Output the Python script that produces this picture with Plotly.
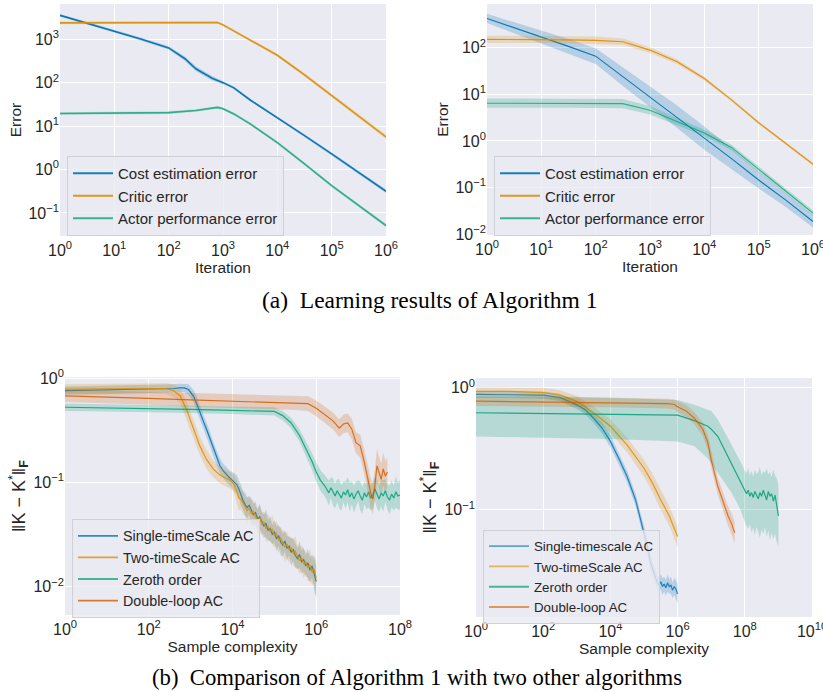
import plotly.graph_objects as go

# ---------------- data (log10 exponents) ----------------
# (a) left: learning results, run 1
TL_COST_X = [0, 0.5, 1, 1.5, 2, 2.3, 2.5, 2.8, 3, 3.2, 3.5, 4, 4.5, 5, 5.5, 6]
TL_COST_Y = [3.55, 3.37, 3.19, 3.0, 2.8, 2.55, 2.32, 2.1, 2.0, 1.88, 1.6, 1.2, 0.78, 0.36, -0.07, -0.5]
TL_COST_S = [0.03, 0.03, 0.03, 0.035, 0.04, 0.05, 0.06, 0.05, 0.04, 0.035, 0.03, 0.03, 0.03, 0.03, 0.035, 0.04]
TL_CRIT_X = [0, 1, 2, 2.5, 2.8, 2.9, 3, 3.2, 3.5, 4, 4.5, 5, 5.5, 6]
TL_CRIT_Y = [3.375, 3.38, 3.38, 3.385, 3.39, 3.385, 3.33, 3.19, 2.99, 2.63, 2.18, 1.71, 1.23, 0.75]
TL_CRIT_S = [0.03, 0.03, 0.03, 0.03, 0.03, 0.03, 0.03, 0.03, 0.03, 0.035, 0.04, 0.04, 0.045, 0.05]
TL_ACT_X = [0, 1, 2, 2.5, 2.8, 2.9, 3, 3.2, 3.5, 4, 4.5, 5, 5.5, 6]
TL_ACT_Y = [1.29, 1.3, 1.31, 1.36, 1.42, 1.43, 1.40, 1.28, 1.05, 0.62, 0.13, -0.37, -0.83, -1.29]
TL_ACT_S = [0.03, 0.03, 0.03, 0.03, 0.03, 0.03, 0.03, 0.03, 0.03, 0.03, 0.03, 0.03, 0.035, 0.04]

# (a) right: learning results, run 2
TR_X = [0, 0.5, 1, 1.5, 2, 2.5, 3, 3.5, 4, 4.5, 5, 5.5, 6]
TR_COST_Y = [2.63, 2.43, 2.24, 2.03, 1.82, 1.38, 0.95, 0.52, 0.06, -0.38, -0.84, -1.27, -1.73]
TR_COST_S = [0.1, 0.12, 0.14, 0.16, 0.17, 0.2, 0.22, 0.24, 0.25, 0.22, 0.18, 0.15, 0.13]
TR_CRIT_Y = [2.18, 2.18, 2.18, 2.17, 2.16, 2.13, 1.95, 1.7, 1.34, 0.88, 0.39, -0.05, -0.5]
TR_CRIT_S = [0.08, 0.08, 0.08, 0.08, 0.08, 0.07, 0.06, 0.05, 0.04, 0.035, 0.03, 0.03, 0.03]
TR_ACT_Y = [0.81, 0.81, 0.81, 0.81, 0.81, 0.8, 0.66, 0.42, 0.17, -0.14, -0.6, -1.08, -1.55]
TR_ACT_S = [0.1, 0.1, 0.1, 0.1, 0.1, 0.1, 0.09, 0.08, 0.07, 0.06, 0.06, 0.06, 0.06]

# (b) left: comparison, run 1
BL_TAIL_X = [4.05, 4.1, 4.15, 4.2, 4.25, 4.3, 4.35, 4.4, 4.45, 4.5, 4.55, 4.6, 4.65, 4.7, 4.75, 4.8, 4.85, 4.9, 4.95, 5.0,
             5.05, 5.1, 5.15, 5.2, 5.25, 5.3, 5.35, 5.4, 5.45, 5.5, 5.55, 5.6, 5.65, 5.7, 5.75, 5.8, 5.85, 5.9, 5.95, 6.0]
BL_SINGLE_X = [0, 1, 2, 2.4, 2.6, 2.75, 2.85, 2.95, 3.07, 3.15, 3.22, 3.3, 3.38, 3.46, 3.54, 3.62, 3.7, 3.78, 3.86, 3.94, 4.0] + BL_TAIL_X
BL_SINGLE_Y = [-0.12, -0.115, -0.11, -0.105, -0.1, -0.095, -0.094, -0.11, -0.175, -0.25,
               -0.33, -0.41, -0.49, -0.58, -0.68, -0.76, -0.84, -0.89, -0.93, -0.96, -0.98,
               -1.00, -1.02, -1.06, -1.12, -1.17, -1.21, -1.24, -1.22, -1.27, -1.31, -1.29, -1.35, -1.33, -1.38, -1.42, -1.39, -1.46, -1.44, -1.50, -1.47,
               -1.54, -1.51, -1.57, -1.60, -1.56, -1.63, -1.61, -1.67, -1.64, -1.70, -1.73, -1.69, -1.76, -1.74, -1.80, -1.77, -1.84, -1.80, -1.88, -1.95]
BL_SINGLE_S = [0.04, 0.04, 0.04, 0.04, 0.04, 0.04, 0.04, 0.05, 0.06, 0.07, 0.07, 0.07, 0.07, 0.07, 0.07, 0.07, 0.07, 0.07, 0.07, 0.07, 0.08,
               0.08, 0.09, 0.08, 0.1, 0.09, 0.11, 0.1, 0.09, 0.12, 0.1, 0.11, 0.09, 0.12, 0.1, 0.11, 0.13, 0.1, 0.12, 0.09, 0.11,
               0.12, 0.1, 0.13, 0.11, 0.1, 0.12, 0.09, 0.13, 0.11, 0.12, 0.1, 0.13, 0.11, 0.12, 0.1, 0.14, 0.12, 0.11, 0.15, 0.16]
BL_TWO_X = [0, 1, 2, 2.4, 2.59, 2.75, 2.9, 3.07, 3.22, 3.38, 3.54, 3.7, 3.85, 3.94, 4.0] + BL_TAIL_X
BL_TWO_Y = [-0.105, -0.1, -0.1, -0.1, -0.12, -0.17, -0.3, -0.49, -0.65, -0.78, -0.87, -0.93, -0.96, -0.98, -1.0,
            -1.03, -1.08, -1.15, -1.16, -1.19, -1.23, -1.27, -1.25, -1.30, -1.28, -1.33, -1.37, -1.34, -1.40, -1.38, -1.44, -1.42, -1.47, -1.45, -1.51,
            -1.49, -1.55, -1.53, -1.58, -1.62, -1.59, -1.65, -1.62, -1.68, -1.66, -1.71, -1.75, -1.72, -1.78, -1.76, -1.82, -1.79, -1.86, -1.83, -1.92]
BL_TWO_S = [0.045, 0.045, 0.045, 0.05, 0.06, 0.07, 0.08, 0.09, 0.09, 0.09, 0.08, 0.08, 0.08, 0.08, 0.08,
            0.09, 0.1, 0.12, 0.1, 0.11, 0.09, 0.12, 0.1, 0.13, 0.11, 0.1, 0.12, 0.14, 0.11, 0.1, 0.13, 0.12, 0.1, 0.14, 0.11,
            0.12, 0.13, 0.1, 0.12, 0.14, 0.11, 0.13, 0.1, 0.12, 0.15, 0.11, 0.13, 0.12, 0.14, 0.1, 0.13, 0.15, 0.12, 0.14, 0.17]
BL_ZERO_X = [0, 1, 2, 3, 4, 4.5, 5.0, 5.2, 5.4, 5.6, 5.75, 5.9, 6.0, 6.1, 6.2,
             6.25, 6.3, 6.35, 6.4, 6.45, 6.5, 6.55, 6.6, 6.65, 6.7, 6.75, 6.8, 6.85, 6.9, 6.95, 7.0, 7.05, 7.1, 7.15, 7.2,
             7.25, 7.3, 7.35, 7.4, 7.45, 7.5, 7.55, 7.6, 7.65, 7.7, 7.75, 7.8, 7.85, 7.9, 7.95, 8.0]
BL_ZERO_Y = [-0.28, -0.285, -0.29, -0.3, -0.31, -0.315, -0.32, -0.36, -0.43, -0.55, -0.67, -0.8, -0.9, -0.98, -1.03,
             -1.06, -1.10, -1.05, -1.09, -1.13, -1.08, -1.11, -1.15, -1.09, -1.12, -1.07, -1.14, -1.10, -1.16, -1.11, -1.08, -1.13, -1.17, -1.10, -1.14,
             -1.09, -1.15, -1.12, -1.06, -1.11, -1.16, -1.10, -1.13, -1.08, -1.14, -1.17, -1.11, -1.15, -1.09, -1.13, -1.12]
BL_ZERO_S = [0.035, 0.035, 0.035, 0.035, 0.035, 0.035, 0.04, 0.045, 0.05, 0.06, 0.07, 0.08, 0.09, 0.1, 0.1,
             0.11, 0.12, 0.1, 0.13, 0.12, 0.11, 0.14, 0.12, 0.1, 0.13, 0.12, 0.14, 0.11, 0.13, 0.12, 0.1, 0.14, 0.13, 0.11, 0.12,
             0.15, 0.12, 0.13, 0.11, 0.14, 0.12, 0.13, 0.15, 0.11, 0.12, 0.14, 0.13, 0.12, 0.15, 0.13, 0.14]
BL_DBL_X = [0, 1, 2, 3, 4, 5, 5.5, 5.8, 6.0, 6.2, 6.4, 6.55, 6.65, 6.75, 6.85, 6.95, 7.05, 7.15, 7.25, 7.3,
            7.35, 7.4, 7.45, 7.5, 7.55, 7.6, 7.65, 7.7]
BL_DBL_Y = [-0.17, -0.18, -0.195, -0.21, -0.22, -0.23, -0.235, -0.245, -0.29, -0.35, -0.41, -0.48, -0.44, -0.43, -0.49,
            -0.62, -0.65, -0.81, -1.0, -1.1, -1.16, -1.03, -0.84, -0.9, -0.97, -0.87, -0.94, -0.9]
BL_DBL_S = [0.06, 0.06, 0.06, 0.065, 0.07, 0.07, 0.07, 0.07, 0.075, 0.08, 0.08, 0.085, 0.09, 0.09, 0.1, 0.1, 0.11, 0.12,
            0.13, 0.14, 0.15, 0.15, 0.16, 0.15, 0.15, 0.16, 0.15, 0.14]

# (b) right: comparison, run 2
BR_SINGLE_X = [0, 1, 2, 2.5, 3, 3.25, 3.5, 3.75, 4, 4.25, 4.5, 4.75, 4.9, 5.0, 5.1, 5.2, 5.3, 5.4, 5.45, 5.5,
               5.55, 5.6, 5.65, 5.7, 5.75, 5.8, 5.85, 5.9, 5.95, 6.0]
BR_SINGLE_Y = [-0.055, -0.055, -0.06, -0.08, -0.14, -0.18, -0.25, -0.33, -0.44, -0.58, -0.73, -0.92, -1.08, -1.18, -1.30,
               -1.44, -1.52, -1.60, -1.62, -1.59, -1.63, -1.61, -1.64, -1.60, -1.63, -1.62, -1.66, -1.63, -1.65, -1.69]
BR_SINGLE_S = [0.03, 0.03, 0.03, 0.03, 0.035, 0.04, 0.04, 0.045, 0.05, 0.05, 0.05, 0.05, 0.055, 0.06, 0.06,
               0.06, 0.06, 0.06, 0.065, 0.06, 0.07, 0.06, 0.065, 0.07, 0.06, 0.07, 0.065, 0.07, 0.075, 0.08]
BR_TWO_X = [0, 1, 2, 2.5, 3, 3.5, 4, 4.5, 5, 5.25, 5.5, 5.75, 6.0]
BR_TWO_Y = [-0.03, -0.03, -0.04, -0.06, -0.11, -0.205, -0.315, -0.47, -0.66, -0.78, -0.92, -1.05, -1.22]
BR_TWO_S = [0.035, 0.035, 0.04, 0.04, 0.045, 0.05, 0.055, 0.06, 0.07, 0.075, 0.08, 0.08, 0.085]
BR_ZERO_X = [0, 2, 4, 5, 6, 6.5, 6.9, 7.0, 7.2, 7.4, 7.6, 7.8, 7.9, 8.0,
             8.05, 8.1, 8.15, 8.2, 8.25, 8.3, 8.35, 8.4, 8.45, 8.5, 8.55, 8.6, 8.65, 8.7, 8.75, 8.8, 8.85, 8.9, 8.95, 9.0]
BR_ZERO_Y = [-0.205, -0.21, -0.215, -0.22, -0.225, -0.27, -0.315, -0.34, -0.40, -0.51, -0.62, -0.73, -0.78, -0.84,
             -0.87, -0.84, -0.89, -0.86, -0.90, -0.85, -0.88, -0.91, -0.86, -0.89, -0.84, -0.88, -0.92, -0.85, -0.89,
             -0.87, -0.93, -0.88, -0.96, -1.05]
BR_ZERO_LO = [-0.40, -0.41, -0.42, -0.43, -0.44, -0.48, -0.58, -0.62, -0.70, -0.78, -0.86, -0.96, -1.02, -1.10,
              -1.13, -1.16, -1.12, -1.19, -1.15, -1.21, -1.14, -1.18, -1.23, -1.16, -1.2, -1.14, -1.22, -1.17, -1.25,
              -1.19, -1.24, -1.2, -1.26, -1.3]
BR_ZERO_HI = [-0.07, -0.07, -0.08, -0.09, -0.10, -0.14, -0.18, -0.19, -0.26, -0.36, -0.46, -0.56, -0.62, -0.68,
              -0.7, -0.66, -0.72, -0.68, -0.73, -0.67, -0.71, -0.69, -0.65, -0.72, -0.68, -0.7, -0.66, -0.71, -0.69,
              -0.73, -0.67, -0.72, -0.74, -0.8]
BR_DBL_X = [0, 2, 4, 5, 5.7, 5.9, 6.0, 6.25, 6.5, 6.75, 6.9, 7.0, 7.1, 7.2, 7.3, 7.4, 7.5, 7.6, 7.7]
BR_DBL_Y = [-0.11, -0.115, -0.12, -0.125, -0.13, -0.137, -0.156, -0.19, -0.25, -0.34, -0.45, -0.59, -0.70, -0.81,
            -0.89, -0.97, -1.05, -1.11, -1.19]
BR_DBL_S = [0.04, 0.04, 0.04, 0.04, 0.04, 0.04, 0.045, 0.05, 0.05, 0.055, 0.06, 0.065, 0.07, 0.07, 0.075, 0.08,
            0.08, 0.085, 0.09]

LEG_A = ["Cost estimation error", "Critic error", "Actor performance error"]
LEG_BL = ["Single-timeScale AC", "Two-timeScale AC", "Zeroth order", "Double-loop AC"]
LEG_BR = ["Single-timescale AC", "Two-timeScale AC", "Zeroth order", "Double-loop AC"]
CAPTION_A = "(a)  Learning results of Algorithm 1"
CAPTION_B = "(b)  Comparison of Algorithm 1 with two other algorithms"

# ---------------- styling ----------------
BLUE = (1, 115, 178)
ORANGE = (222, 143, 5)
GREEN = (2, 158, 115)
RED = (213, 94, 0)
FONT = "Liberation Sans, Arial, sans-serif"
SERIF = "Liberation Serif, Times New Roman, serif"
TXT = "#262626"


def rgba(c, a):
    return f"rgba({c[0]},{c[1]},{c[2]},{a})"


fig = go.Figure()


def add_series(xa, ya, xe, ye, color, name, legend, width, spread=None, lo=None, hi=None,
               line_alpha=0.95, fill_alpha=0.22, legend_alpha=0.9):
    assert len(xe) == len(ye)
    if lo is None:
        assert len(spread) == len(ye)
        lo = [a - s for a, s in zip(ye, spread)]
        hi = [a + s for a, s in zip(ye, spread)]
    assert len(lo) == len(ye) and len(hi) == len(ye)
    x = [10 ** v for v in xe]
    y = [10 ** v for v in ye]
    px = x + x[::-1]
    py = [10 ** v for v in hi] + [10 ** v for v in lo][::-1]
    # confidence band
    fig.add_trace(go.Scatter(x=px, y=py, fill="toself", fillcolor=rgba(color, fill_alpha),
                             line=dict(width=0), hoverinfo="skip", showlegend=False,
                             xaxis=xa, yaxis=ya, mode="lines"))
    # mean line
    fig.add_trace(go.Scatter(x=x, y=y, mode="lines", name=name, showlegend=False,
                             line=dict(color=rgba(color, line_alpha), width=width),
                             xaxis=xa, yaxis=ya))
    # legend key (crisper line sample, no data drawn)
    fig.add_trace(go.Scatter(x=[None], y=[None], mode="lines", name=name, legend=legend,
                             line=dict(color=rgba(color, legend_alpha), width=1.8),
                             hoverinfo="skip", xaxis=xa, yaxis=ya))


# top-left
add_series("x", "y", TL_COST_X, TL_COST_Y, BLUE, LEG_A[0], "legend", 1.6, TL_COST_S)
add_series("x", "y", TL_CRIT_X, TL_CRIT_Y, ORANGE, LEG_A[1], "legend", 1.6, TL_CRIT_S)
add_series("x", "y", TL_ACT_X, TL_ACT_Y, GREEN, LEG_A[2], "legend", 1.6, TL_ACT_S, line_alpha=0.75, legend_alpha=0.75)
# top-right
add_series("x2", "y2", TR_X, TR_COST_Y, BLUE, LEG_A[0], "legend2", 1.1, TR_COST_S)
add_series("x2", "y2", TR_X, TR_CRIT_Y, ORANGE, LEG_A[1], "legend2", 1.1, TR_CRIT_S)
add_series("x2", "y2", TR_X, TR_ACT_Y, GREEN, LEG_A[2], "legend2", 1.1, TR_ACT_S, line_alpha=0.75, legend_alpha=0.75)
# bottom-left
add_series("x3", "y3", BL_SINGLE_X, BL_SINGLE_Y, BLUE, LEG_BL[0], "legend3", 1.2, BL_SINGLE_S, line_alpha=0.9, legend_alpha=0.8)
add_series("x3", "y3", BL_TWO_X, BL_TWO_Y, ORANGE, LEG_BL[1], "legend3", 1.2, BL_TWO_S, line_alpha=0.9, legend_alpha=0.8)
add_series("x3", "y3", BL_ZERO_X, BL_ZERO_Y, GREEN, LEG_BL[2], "legend3", 1.2, BL_ZERO_S, line_alpha=0.85, legend_alpha=0.7)
add_series("x3", "y3", BL_DBL_X, BL_DBL_Y, RED, LEG_BL[3], "legend3", 1.2, BL_DBL_S, line_alpha=0.85, legend_alpha=0.8)
# bottom-right
add_series("x4", "y4", BR_SINGLE_X, BR_SINGLE_Y, BLUE, LEG_BR[0], "legend4", 1.2, BR_SINGLE_S, line_alpha=0.85, legend_alpha=0.6)
add_series("x4", "y4", BR_TWO_X, BR_TWO_Y, ORANGE, LEG_BR[1], "legend4", 1.2, BR_TWO_S, line_alpha=0.85, legend_alpha=0.6)
add_series("x4", "y4", BR_ZERO_X, BR_ZERO_Y, GREEN, LEG_BR[2], "legend4", 1.2, lo=BR_ZERO_LO, hi=BR_ZERO_HI, line_alpha=0.85, legend_alpha=0.7)
add_series("x4", "y4", BR_DBL_X, BR_DBL_Y, RED, LEG_BR[3], "legend4", 1.2, BR_DBL_S, line_alpha=0.8, legend_alpha=0.6)

W, H = 823, 692


def pdx(a, b):
    return [a / W, b / W]


def pdy(top, bottom):
    return [1 - bottom / H, 1 - top / H]


def pow_ticks(lo, hi, step=1):
    vals, texts = [], []
    k = lo
    while k <= hi:
        vals.append(10 ** k)
        s = str(k) if k >= 0 else "\u2212" + str(-k)
        texts.append(f"10<sup>{s}</sup>")
        k += step
    return vals, texts


def xaxis(dom, rng, lo, hi, step, title, anchor):
    tv, tt = pow_ticks(lo, hi, step)
    return dict(domain=dom, type="log", range=rng, anchor=anchor, tickvals=tv, ticktext=tt,
                showgrid=True, gridcolor="white", gridwidth=1.2, showline=False, zeroline=False,
                ticks="", ticklabelstandoff=3, ticklabeloverflow="allow",
                tickfont=dict(family=FONT, size=16, color=TXT), automargin=False,
                title=dict(text=title, font=dict(family=FONT, size=15.5, color=TXT), standoff=2))


def yaxis(dom, rng, lo, hi, title, anchor, tsize=15.5):
    tv, tt = pow_ticks(lo, hi, 1)
    return dict(domain=dom, type="log", range=rng, anchor=anchor, tickvals=tv, ticktext=tt,
                showgrid=True, gridcolor="white", gridwidth=1.2, showline=False, zeroline=False,
                ticks="", ticklabeloverflow="allow",
                tickfont=dict(family=FONT, size=16, color=TXT), automargin=False,
                title=dict(text=title, font=dict(family=FONT, size=tsize, color=TXT), standoff=3))


KTITLE = "\u2016K\u00a0\u2212\u00a0K<sup>*</sup>\u2016<sub><b>F</b></sub>"

legend_common = dict(bgcolor="rgba(234,234,242,0.8)", bordercolor="#cfcfd6", borderwidth=1,
                     xanchor="left", yanchor="top", itemwidth=40, tracegroupgap=0)


def leg(x, y, size):
    d = dict(legend_common)
    d.update(x=x / W, y=1 - y / H, font=dict(family=FONT, size=size, color=TXT))
    return d


fig.update_layout(
    width=W, height=H, margin=dict(l=0, r=0, t=0, b=0),
    paper_bgcolor="white", plot_bgcolor="#eaeaf2",
    font=dict(family=FONT, color=TXT),
    xaxis=xaxis(pdx(60, 386), [0, 6], 0, 6, 1, "Iteration", "y"),
    yaxis=yaxis(pdy(4, 236), [-1.53, 3.81], -1, 3, "Error", "x"),
    xaxis2=xaxis(pdx(487, 813), [0, 6], 0, 6, 1, "Iteration", "y2"),
    yaxis2=yaxis(pdy(4, 235), [-2.02, 2.94], -2, 2, "Error", "x2"),
    xaxis3=xaxis(pdx(65, 400), [0, 8], 0, 8, 2, "Sample complexity", "y3"),
    yaxis3=yaxis(pdy(377, 615), [-2.27, 0.01], -2, 0, KTITLE, "x3", tsize=18),
    xaxis4=xaxis(pdx(476, 812), [0, 10], 0, 10, 2, "Sample complexity", "y4"),
    yaxis4=yaxis(pdy(378, 617), [-1.88, 0.08], -1, 0, KTITLE, "x4", tsize=18),
    legend=leg(67, 156, 15),
    legend2=leg(494, 156, 15),
    legend3=leg(72, 519, 14.3),
    legend4=leg(483, 530, 13.3),
    showlegend=True,
    annotations=[
        dict(text=CAPTION_A, x=430 / W, y=1 - 300 / H, xref="paper", yref="paper",
             xanchor="center", yanchor="middle", showarrow=False,
             font=dict(family=SERIF, size=23.5, color="black")),
        dict(text=CAPTION_B, x=417 / W, y=1 - 677 / H, xref="paper", yref="paper",
             xanchor="center", yanchor="middle", showarrow=False,
             font=dict(family=SERIF, size=22.7, color="black")),
    ],
)

fig.write_html("out.html", config={"displayModeBar": False},
               post_script="document.body.style.margin='0';document.body.style.overflow='hidden';")
